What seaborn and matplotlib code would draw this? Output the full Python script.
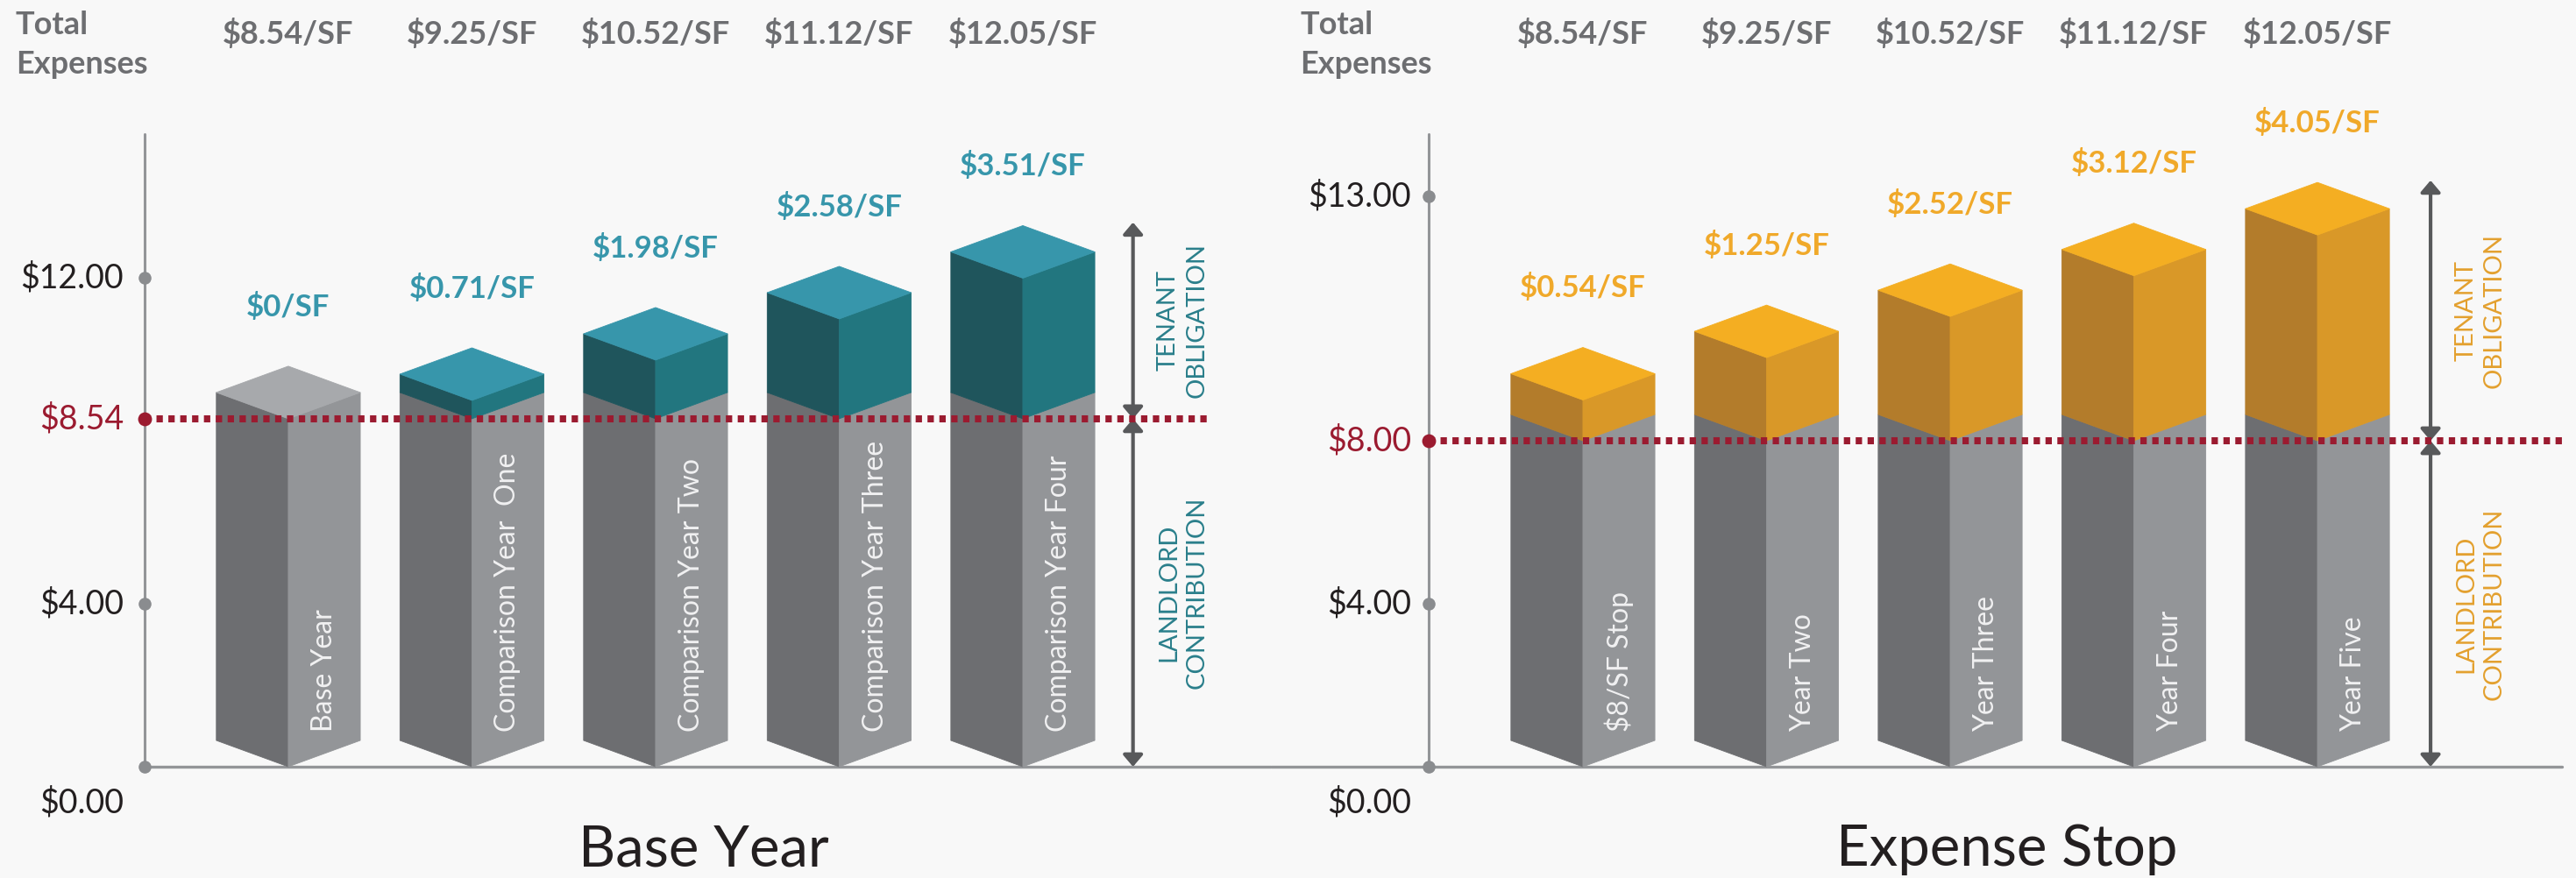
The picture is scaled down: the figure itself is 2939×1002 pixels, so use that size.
import matplotlib
matplotlib.use("Agg")
import matplotlib.pyplot as plt
import seaborn as sns

# values
total_labels = ["$8.54/SF", "$9.25/SF", "$10.52/SF", "$11.12/SF", "$12.05/SF"]

base_names = ["Base Year", "Comparison Year  One", "Comparison Year Two",
              "Comparison Year Three", "Comparison Year Four"]
base_line = 8.54
base_tenant = ["$0/SF", "$0.71/SF", "$1.98/SF", "$2.58/SF", "$3.51/SF"]
base_tops = [8.54, 8.99, 9.98, 10.99, 11.99]      # drawn heights in the graphic
base_ticks = [0, 4, 12]
base_tick_labels = ["$0.00", "$4.00", "$12.00"]

stop_names = ["$8/SF Stop", "Year Two", "Year Three", "Year Four", "Year Five"]
stop_line = 8.00
stop_tenant = ["$0.54/SF", "$1.25/SF", "$2.52/SF", "$3.12/SF", "$4.05/SF"]
stop_tops = [9.0, 10.04, 11.05, 12.05, 13.05]
stop_ticks = [0, 4, 14.0]
stop_tick_labels = ["$0.00", "$4.00", "$13.00"]

BG = "#F8F8F8"
GRAY_L, GRAY_R, GRAY_T = "#6D6E71", "#939598", "#A7A9AC"
TEAL = ("#1F555C", "#22767F", "#3796AB")
ORANGE = ("#B37C2B", "#D99828", "#F4AE22")
RED = "#9B1B30"
AXIS = "#939598"
ARROW = "#58595B"

W = 0.392    # half width of a column
DY = 0.645   # rise of the side edges

sns.set_theme(style="white")
plt.rcParams["font.family"] = ["Lato", "DejaVu Sans"]


def face(ax, xs, ys, color, z=2):
    ax.fill(xs, ys, color=color, ec=color, lw=0.6, zorder=z)


def prism(ax, c, y0, y1, cols, top=True):
    left, right, topc = cols
    face(ax, [c - W, c, c, c - W], [y0 + DY, y0, y1, y1 + DY], left)
    face(ax, [c, c + W, c + W, c], [y0, y0 + DY, y1 + DY, y1], right)
    if top:
        face(ax, [c, c + W, c, c - W], [y1, y1 + DY, y1 + 2 * DY, y1 + DY], topc)


def panel(ax, names, tops, line, tenant, ticks, tick_labels, cols, txt_col,
          lab_col, axis_x, lab_x, base_x0, base_x1, dash_x1, arrow_x,
          arrow_top, total_x, title, title_x):
    xs = list(range(len(names)))
    # columns
    for i, (c, t) in enumerate(zip(xs, tops)):
        if t <= line:
            prism(ax, c, 0, line, (GRAY_L, GRAY_R, GRAY_T))
        else:
            prism(ax, c, 0, line, (GRAY_L, GRAY_R, GRAY_T), top=False)
            prism(ax, c, line, t, cols)
        ax.text(c + W / 2, 0.86, names[i], rotation=90, ha="center", va="bottom",
                color="#F1F1F2", fontsize=23, fontweight="normal", zorder=5)
        ax.text(c, t + 2 * DY + 1.46, tenant[i], ha="center", va="center",
                color=lab_col, fontsize=25, fontweight="bold")
        ax.text(c, 17.74, total_labels[i], ha="center", va="baseline",
                color="#6D6E71", fontsize=26, fontweight="bold")

    # axes
    ax.plot([axis_x, axis_x], [0, 15.53], color=AXIS, lw=2.2, zorder=1)
    ax.plot([base_x0, base_x1], [0, 0], color=AXIS, lw=2.4, zorder=1)
    sns.scatterplot(x=[axis_x] * len(ticks), y=ticks, ax=ax, color="#8A8C8F",
                    s=110, linewidth=0, zorder=3)
    for v, s in zip(ticks, tick_labels):
        yy = -0.88 if v == 0 else v
        ax.text(lab_x, yy, s, ha="right", va="center", color="#231F20",
                fontsize=27, fontweight="normal")

    # threshold
    ax.plot([axis_x, dash_x1], [line, line], color=RED, lw=5.8,
            linestyle=(0, (0.9, 0.78)), zorder=4)
    sns.scatterplot(x=[axis_x], y=[line], ax=ax, color=RED, s=130, linewidth=0,
                    zorder=5)
    ax.text(lab_x, line, f"${line:.2f}", ha="right", va="center", color=RED,
            fontsize=27, fontweight="normal")

    # tenant / landlord arrows
    style = "<|-|>,head_length=0.4,head_width=0.34"
    for y0, y1 in [(line, arrow_top), (0, line)]:
        ax.annotate("", xy=(arrow_x, y1), xytext=(arrow_x, y0),
                    arrowprops=dict(arrowstyle=style, color=ARROW, lw=3,
                                    mutation_scale=20, shrinkA=0, shrinkB=0),
                    zorder=3)
    ax.text(arrow_x + 0.27, (line + arrow_top) / 2, "TENANT\nOBLIGATION",
            rotation=90, ha="center", va="center", color=txt_col, fontsize=21,
            fontweight="normal", linespacing=1.3)
    ax.text(arrow_x + 0.27, line / 2, "LANDLORD\nCONTRIBUTION",
            rotation=90, ha="center", va="center", color=txt_col, fontsize=21,
            fontweight="normal", linespacing=1.3)

    ax.text(total_x, 17.98, "Total", ha="left", va="baseline", color="#6D6E71",
            fontsize=26, fontweight="bold")
    ax.text(total_x, 17.01, "Expenses", ha="left", va="baseline", color="#6D6E71",
            fontsize=26, fontweight="bold")
    ax.text(title_x, -2.43, title, ha="center", va="baseline", color="#231F20",
            fontsize=47, fontweight="normal")


fig = plt.figure(figsize=(29.39, 10.02), dpi=100)
fig.patch.set_facecolor(BG)
ax_l = fig.add_axes([0, 0, 1450 / 2939, 1])
ax_r = fig.add_axes([1450 / 2939, 0, 1489 / 2939, 1])
ax_l.set_xlim(-1.570, 5.351)
ax_r.set_xlim(-1.699, 5.408)
for ax in (ax_l, ax_r):
    ax.set_ylim(-2.731, 18.817)
    ax.set_facecolor(BG)
    ax.axis("off")

panel(ax_l, base_names, base_tops, base_line, base_tenant, base_ticks,
      base_tick_labels, TEAL, "#2A7F8B", "#3796AB", -0.783, -0.897, -0.783,
      5.351, 5.03, 4.60, 13.36, -1.485, "Base Year", 2.26)
panel(ax_r, stop_names, stop_tops, stop_line, stop_tenant, stop_ticks,
      stop_tick_labels, ORANGE, "#E3A02E", "#F0A92A", -0.840, -0.936, -1.699,
      5.33, 5.33, 4.616, 14.39, -1.54, "Expense Stop", 2.31)

fig.savefig("out.png", dpi=100, facecolor=BG)
